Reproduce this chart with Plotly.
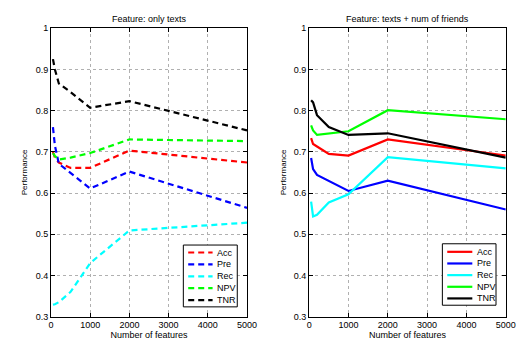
import plotly.graph_objects as go

# Number of features sampled
features = [50, 100, 200, 500, 1000, 2000, 5000]

# Left panel: only texts
left_acc = [0.700, 0.686, 0.674, 0.661, 0.661, 0.703, 0.674]
left_pre = [0.760, 0.715, 0.671, 0.648, 0.611, 0.652, 0.564]
left_rec = [0.329, 0.330, 0.335, 0.360, 0.430, 0.509, 0.528]
left_npv = [0.697, 0.690, 0.681, 0.686, 0.697, 0.730, 0.726]
left_tnr = [0.925, 0.900, 0.866, 0.845, 0.807, 0.823, 0.752]

# Right panel: texts + num of friends
right_acc = [0.733, 0.719, 0.713, 0.695, 0.691, 0.730, 0.691]
right_pre = [0.685, 0.658, 0.644, 0.630, 0.605, 0.630, 0.560]
right_rec = [0.579, 0.543, 0.547, 0.577, 0.597, 0.687, 0.660]
right_npv = [0.764, 0.752, 0.741, 0.745, 0.750, 0.801, 0.779]
right_tnr = [0.825, 0.820, 0.789, 0.760, 0.741, 0.745, 0.686]

names = ["Acc", "Pre", "Rec", "NPV", "TNR"]
colors = ["#ff0000", "#0000ff", "#00ffff", "#00ff00", "#000000"]

FONT = "Liberation Sans, Arial, sans-serif"
W, H = 526, 343
DASH = "6px,4px"

def px(x):
    return x / W

def py(y):
    return (H - y) / H

fig = go.Figure()

left_series = [left_acc, left_pre, left_rec, left_npv, left_tnr]
right_series = [right_acc, right_pre, right_rec, right_npv, right_tnr]

for n, c, ys in zip(names, colors, left_series):
    fig.add_trace(go.Scatter(x=features, y=ys, mode="lines", name=n,
                             line=dict(color=c, width=2.2, dash=DASH),
                             xaxis="x", yaxis="y", showlegend=False))
for n, c, ys in zip(names, colors, right_series):
    fig.add_trace(go.Scatter(x=features, y=ys, mode="lines", name=n,
                             line=dict(color=c, width=2.2),
                             xaxis="x2", yaxis="y2", showlegend=False))

ydom = [py(312.7), py(15.7)]
axis_common = dict(
    showline=True, linecolor="black", linewidth=1, mirror="allticks",
    ticks="inside", ticklen=4, tickcolor="black",
    showgrid=True, gridcolor="#b0b0b0", griddash="dot", gridwidth=1,
    zeroline=False, tickfont=dict(family=FONT, size=9, color="black"),
)
xcommon = dict(axis_common, range=[0, 5000], tickvals=[0, 1000, 2000, 3000, 4000, 5000],
               title=dict(text="Number of features", font=dict(family=FONT, size=9, color="black"), standoff=0))
ycommon = dict(axis_common, range=[0.3, 1.0], tickvals=[0.3, 0.4, 0.5, 0.6, 0.7, 0.8, 0.9, 1.0],
               ticktext=["0.3", "0.4", "0.5", "0.6", "0.7", "0.8", "0.9", "1"],
               title=dict(text="Performance", font=dict(family=FONT, size=8, color="black"), standoff=6))

# Manual MATLAB-style legends (compact entries)
shapes = []
annotations = []
legend_specs = [
    # box x0, x1, y0, y1, line x0, x1, text x, first entry y, step, dash
    (176.7, 232.0, 239.0, 302.7, 181.7, 206.7, 209.0, 246.7, 12.25, DASH),
    (442.3, 497.3, 237.7, 301.0, 447.3, 473.0, 475.5, 246.0, 12.0, None),
]
for bx0, bx1, by0, by1, lx0, lx1, tx, ey0, step, dash in legend_specs:
    shapes.append(dict(type="rect", xref="paper", yref="paper",
                       x0=px(bx0), x1=px(bx1), y0=py(by1), y1=py(by0),
                       line=dict(color="black", width=1), fillcolor="white", layer="above"))
    for i, (n, c) in enumerate(zip(names, colors)):
        ey = ey0 + i * step
        ln = dict(color=c, width=2.2)
        if dash:
            ln["dash"] = dash
        shapes.append(dict(type="line", xref="paper", yref="paper",
                           x0=px(lx0), x1=px(lx1), y0=py(ey), y1=py(ey),
                           line=ln, layer="above"))
        annotations.append(dict(text=n, x=px(tx), y=py(ey), xref="paper", yref="paper",
                                showarrow=False, xanchor="left", yanchor="middle",
                                font=dict(family=FONT, size=9, color="black")))

annotations += [
    dict(text="Feature: only texts", x=px(141.5), y=py(6), xref="paper", yref="paper",
         showarrow=False, xanchor="center", yanchor="middle",
         font=dict(family=FONT, size=9, color="black")),
    dict(text="Feature: texts + num of friends", x=px(407), y=py(6), xref="paper", yref="paper",
         showarrow=False, xanchor="center", yanchor="middle",
         font=dict(family=FONT, size=9, color="black")),
]

fig.update_layout(
    width=W, height=H,
    margin=dict(l=0, r=0, t=0, b=0),
    paper_bgcolor="white", plot_bgcolor="white",
    showlegend=False,
    xaxis=dict(xcommon, domain=[px(41), px(242)], anchor="y"),
    yaxis=dict(ycommon, domain=ydom, anchor="x"),
    xaxis2=dict(xcommon, domain=[px(305.7), px(507.3)], anchor="y2"),
    yaxis2=dict(ycommon, domain=ydom, anchor="x2"),
    shapes=shapes,
    annotations=annotations,
)

fig.write_html("out.html")
